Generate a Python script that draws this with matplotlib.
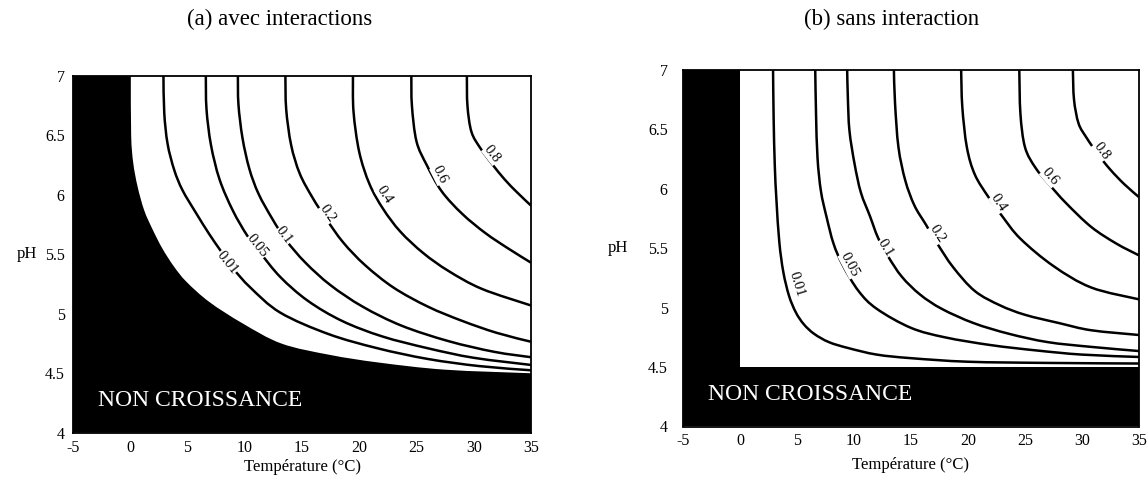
import numpy as np
import matplotlib
matplotlib.use("Agg")
import matplotlib.pyplot as plt
from matplotlib.path import Path
from matplotlib.patches import PathPatch

plt.rcParams['font.family'] = ['Liberation Serif', 'DejaVu Serif']

# contour levels (relative growth rate mu/mu_opt)
levels = ['0.01', '0.05', '0.1', '0.2', '0.4', '0.6', '0.8']

# (a) with interactions: contour lines, temperature (C) vs pH
a_T_001 = [2.9, 2.97, 3.26, 3.84, 4.56, 5.73, 6.9, 7.9, 9.0, 10.5, 13.1, 17.3, 21.6, 26.0, 30.5, 35.0]
a_pH_001 = [7.0, 6.69, 6.43, 6.21, 6.04, 5.85, 5.67, 5.53, 5.38, 5.22, 5.01, 4.83, 4.71, 4.62, 4.56, 4.525]
a_T_005 = [6.6, 6.66, 7.05, 7.8, 8.95, 10.2, 11.3, 13.1, 15.5, 18.5, 22.0, 26.0, 30.0, 35.0]
a_pH_005 = [7.0, 6.72, 6.42, 6.13, 5.87, 5.66, 5.52, 5.31, 5.11, 4.94, 4.81, 4.71, 4.63, 4.57]
a_T_01 = [9.4, 9.45, 9.8, 10.4, 11.2, 12.4, 13.6, 15.3, 17.5, 20.3, 23.7, 27.8, 31.8, 35.0]
a_pH_01 = [7.0, 6.76, 6.48, 6.22, 6.01, 5.8, 5.62, 5.43, 5.24, 5.06, 4.9, 4.77, 4.68, 4.635]
a_T_02 = [13.55, 13.62, 14.05, 14.8, 15.9, 17.1, 18.6, 20.5, 23.0, 26.0, 29.0, 32.0, 35.0]
a_pH_02 = [7.0, 6.72, 6.42, 6.18, 5.98, 5.8, 5.6, 5.41, 5.22, 5.06, 4.94, 4.84, 4.765]
a_T_04 = [19.45, 19.5, 20.0, 20.9, 22.1, 23.6, 25.6, 27.8, 30.7, 35.0]
a_pH_04 = [7.0, 6.7, 6.36, 6.09, 5.88, 5.69, 5.51, 5.36, 5.21, 5.07]
a_T_06 = [24.55, 24.6, 25.0, 25.9, 27.2, 29.0, 31.0, 33.0, 35.0]
a_pH_06 = [7.0, 6.75, 6.45, 6.25, 6.03, 5.84, 5.68, 5.55, 5.43]
a_T_08 = [29.4, 29.45, 29.8, 30.6, 31.6, 32.7, 33.8, 35.0]
a_pH_08 = [7.0, 6.75, 6.53, 6.39, 6.26, 6.13, 6.02, 5.91]

# (a) no-growth boundary
a_edge_T = [0.05, 0.08, 0.26, 0.64, 1.22, 1.95, 2.8, 3.8, 4.9, 6.9, 9.8, 13.2, 17.4, 21.7, 27.5, 35.0]
a_edge_pH = [7.0, 6.5, 6.27, 6.07, 5.87, 5.71, 5.55, 5.4, 5.27, 5.1, 4.92, 4.75, 4.655, 4.59, 4.53, 4.5]

# (b) without interaction
b_T_001 = [2.9, 2.95, 3.05, 3.2, 3.45, 3.8, 4.3, 4.9, 5.6, 6.5, 7.8, 9.5, 12.0, 15.0, 20.0, 27.0, 35.0]
b_pH_001 = [7.0, 6.6, 6.2, 5.9, 5.55, 5.3, 5.1, 4.96, 4.86, 4.78, 4.71, 4.66, 4.605, 4.575, 4.545, 4.535, 4.53]
b_T_005 = [6.6, 6.67, 6.8, 7.1, 7.6, 8.2, 9.0, 10.4, 12.0, 15.0, 18.0, 22.0, 26.0, 30.0, 35.0]
b_pH_005 = [7.0, 6.63, 6.26, 5.98, 5.76, 5.54, 5.36, 5.14, 4.99, 4.83, 4.75, 4.685, 4.64, 4.605, 4.585]
b_T_01 = [9.4, 9.46, 9.6, 10.05, 10.6, 11.4, 12.1, 13.0, 14.2, 15.8, 17.7, 20.5, 23.6, 27.0, 30.8, 35.0]
b_pH_01 = [7.0, 6.77, 6.49, 6.21, 5.97, 5.77, 5.59, 5.43, 5.26, 5.11, 4.99, 4.87, 4.78, 4.71, 4.67, 4.635]
b_T_02 = [13.5, 13.6, 13.9, 14.5, 15.3, 16.3, 17.3, 18.7, 20.6, 22.8, 25.0, 28.0, 30.8, 35.0]
b_pH_02 = [7.0, 6.72, 6.35, 6.07, 5.86, 5.7, 5.54, 5.34, 5.14, 5.02, 4.94, 4.87, 4.81, 4.77]
b_T_04 = [19.4, 19.5, 19.9, 20.6, 21.8, 23.0, 24.6, 27.5, 30.8, 35.0]
b_pH_04 = [7.0, 6.69, 6.35, 6.12, 5.93, 5.77, 5.58, 5.35, 5.17, 5.07]
b_T_06 = [24.5, 24.6, 25.0, 25.9, 27.1, 28.6, 30.8, 33.0, 35.0]
b_pH_06 = [7.0, 6.63, 6.35, 6.18, 6.04, 5.88, 5.68, 5.54, 5.44]
b_T_08 = [29.2, 29.3, 29.7, 30.4, 31.4, 32.5, 33.7, 35.0]
b_pH_08 = [7.0, 6.75, 6.55, 6.43, 6.29, 6.16, 6.04, 5.93]

# (b) no-growth limits: Tmin and pHmin
b_edge_T = [0.0, 0.0, 35.0]
b_edge_pH = [7.0, 4.5, 4.5]

xticks = [-5, 0, 5, 10, 15, 20, 25, 30, 35]
xtick_labels = ['-5', '0', '5', '10', '15', '20', '25', '30', '35']
yticks = [4, 4.5, 5, 5.5, 6, 6.5, 7]
ytick_labels = ['4', '4.5', '5', '5.5', '6', '6.5', '7']

curves_a = [(a_T_001, a_pH_001), (a_T_005, a_pH_005), (a_T_01, a_pH_01), (a_T_02, a_pH_02),
            (a_T_04, a_pH_04), (a_T_06, a_pH_06), (a_T_08, a_pH_08)]
curves_b = [(b_T_001, b_pH_001), (b_T_005, b_pH_005), (b_T_01, b_pH_01), (b_T_02, b_pH_02),
            (b_T_04, b_pH_04), (b_T_06, b_pH_06), (b_T_08, b_pH_08)]

# where the level labels sit (T, pH), just beside each line
labels_a = [(8.45, 5.43), (11.1, 5.57), (13.45, 5.66), (17.2, 5.84), (22.2, 6.0), (27.0, 6.17), (31.6, 6.34)]
labels_b = [(5.0, 5.2), (9.6, 5.36), (12.7, 5.5), (17.3, 5.62), (22.7, 5.88), (27.2, 6.1), (31.7, 6.32)]


def bezier_through(T, pH):
    # cubic bezier segments passing through every measured point
    pts = np.column_stack([T, pH])
    n = len(pts)
    verts = []
    for i in range(n - 1):
        p0 = pts[i - 1] if i > 0 else pts[i]
        p1 = pts[i]
        p2 = pts[i + 1]
        p3 = pts[i + 2] if i + 2 < n else pts[i + 1]
        verts += [p1 + (p2 - p0) / 6.0, p2 - (p3 - p1) / 6.0, p2]
    return pts[0], verts


def smooth_line(ax, T, pH, lw=1.8):
    start, segs = bezier_through(T, pH)
    verts = [start] + segs
    codes = [Path.MOVETO] + [Path.CURVE4] * len(segs)
    ax.add_patch(PathPatch(Path(verts, codes), fill=False, ec='black', lw=lw, zorder=3,
                           capstyle='butt', joinstyle='round'))


def fill_region(ax, edge_T, edge_pH, curved):
    # black area left of / below the no-growth boundary
    if curved:
        start, segs = bezier_through(edge_T, edge_pH)
        edge_codes = [Path.LINETO] + [Path.CURVE4] * len(segs)
        edge_verts = [start] + segs
    else:
        edge_verts = list(zip(edge_T, edge_pH))
        edge_codes = [Path.LINETO] * len(edge_verts)
    verts = [(-5, 4), (-5, 7)] + edge_verts + [(35, 4), (-5, 4)]
    codes = [Path.MOVETO, Path.LINETO] + edge_codes + [Path.LINETO, Path.CLOSEPOLY]
    ax.add_patch(PathPatch(Path(verts, codes), fc='black', ec='none', zorder=1))


def label_curve(ax, T, pH, text, pos):
    # orient the text along the line at its nearest point
    pts = ax.transData.transform(np.column_stack([T, pH]))
    p = ax.transData.transform(pos)
    i = int(np.argmin(np.hypot(pts[:, 0] - p[0], pts[:, 1] - p[1])))
    i0 = max(i - 1, 0)
    i1 = min(i + 1, len(pts) - 1)
    d = pts[i1] - pts[i0]
    ang = np.degrees(np.arctan2(d[1], d[0]))
    ax.text(pos[0], pos[1], text, rotation=ang, rotation_mode='anchor', ha='center', va='center',
            fontsize=10.5, zorder=4, bbox=dict(fc='white', ec='none', pad=0.2))


def draw_panel(ax, curves, labels, edge_T, edge_pH, curved, ytick_pad, xlab_y, ylab_x, txt_xy):
    ax.set_xlim(-5, 35)
    ax.set_ylim(4, 7)
    fill_region(ax, edge_T, edge_pH, curved)
    for (T, pH), lev, pos in zip(curves, levels, labels):
        smooth_line(ax, T, pH)
        label_curve(ax, T, pH, lev, pos)
    ax.text(txt_xy[0], txt_xy[1], 'NON CROISSANCE', color='white', fontsize=17,
            ha='left', va='baseline', zorder=5)
    ax.set_xticks(xticks)
    ax.set_xticklabels(xtick_labels)
    ax.set_yticks(yticks)
    ax.set_yticklabels(ytick_labels)
    ax.tick_params(axis='both', length=0, labelsize=11.5)
    ax.tick_params(axis='x', pad=5)
    ax.tick_params(axis='y', pad=ytick_pad)
    for sp in ax.spines.values():
        sp.set_linewidth(1.3)
        sp.set_zorder(6)
    ax.set_xlabel('Température (°C)', fontsize=12)
    ax.xaxis.set_label_coords(0.5, xlab_y)
    ax.xaxis.label.set_va('center')
    ax.set_ylabel('pH', fontsize=12, rotation=0)
    ax.yaxis.set_label_coords(ylab_x, 0.5)
    ax.yaxis.label.set_va('center')
    ax.yaxis.label.set_ha('center')


fig = plt.figure(figsize=(11.47, 4.79), dpi=100)
ax_a = fig.add_axes([73 / 1147, 46.3 / 479, 458 / 1147, 356.7 / 479])
ax_b = fig.add_axes([683 / 1147, 52.5 / 479, 456 / 1147, 356.5 / 479])

draw_panel(ax_a, curves_a, labels_a, a_edge_T, a_edge_pH, True, 6, -0.095, -0.10, (-2.8, 4.227))
draw_panel(ax_b, curves_b, labels_b, b_edge_T, b_edge_pH, False, 11, -0.108, -0.143, (-2.82, 4.22))

fig.text(280 / 1147, 1 - 19 / 479, '(a) avec interactions', fontsize=16.5, ha='center', va='center')
fig.text(892 / 1147, 1 - 19 / 479, '(b) sans interaction', fontsize=16.5, ha='center', va='center')

fig.savefig('out.png', dpi=100)
